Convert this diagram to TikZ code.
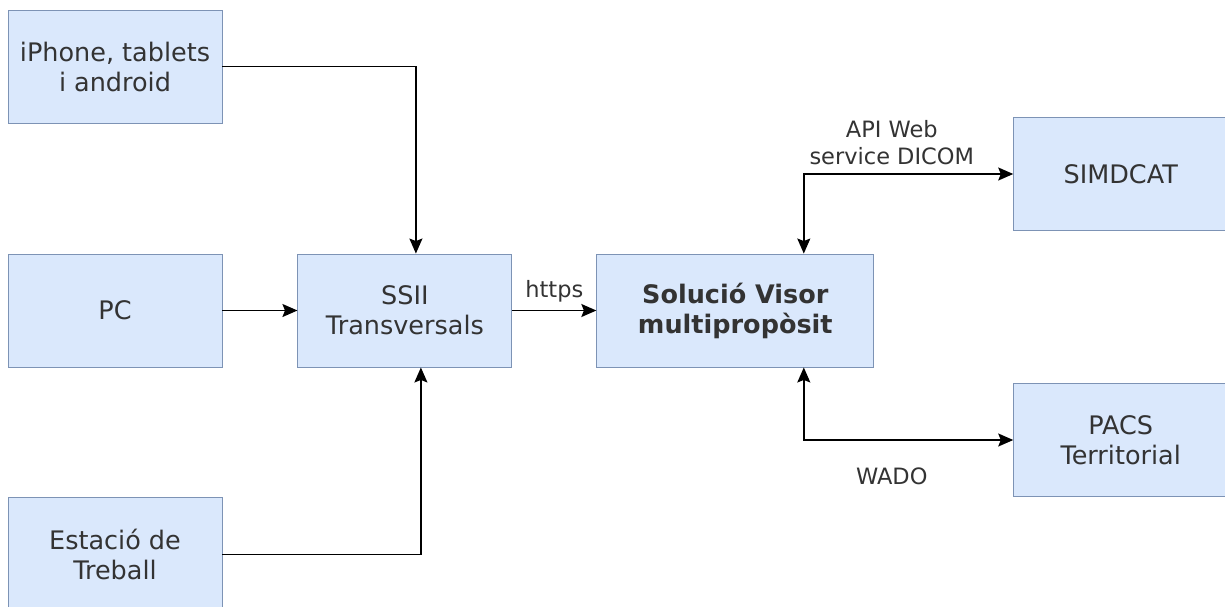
\documentclass[tikz,border=0pt]{standalone}
\usepackage{fontspec}
\setmainfont{DejaVu Sans}
\usetikzlibrary{positioning,arrows.meta}
\usepackage{xcolor}
\definecolor{boxfill}{HTML}{DAE8FC}
\definecolor{boxline}{HTML}{7D93B5}

\begin{document}
\begin{tikzpicture}[x=1pt, y=-1pt,
  block/.style={rectangle, draw=boxline, fill=boxfill, line width=0.9pt,
    minimum width=214pt, minimum height=113pt, align=center,
    text=black!80, font=\fontsize{25.5}{30}\selectfont},
  lbl/.style={align=center, text=black!80, font=\fontsize{22.5}{27}\selectfont},
  link/.style={draw, line width=1.5pt, -{Stealth[length=15pt, width=13pt, inset=2.5pt]}},
  twoway/.style={link, {Stealth[length=15pt, width=13pt, inset=2.5pt]}-{Stealth[length=15pt, width=13pt, inset=2.5pt]}},
  node distance=130pt and 75pt,
]
  \useasboundingbox (0,0) rectangle (1225,606);

  % Devices and services
  \node[block] (pc) at (115,310.5) {PC};
  \node[block, above=of pc] (phone) {iPhone, tablets\\i android};
  \node[block, below=of pc] (station) {Estació de\\Treball};
  \node[block, right=of pc] (ssii) {SSII\\Transversals};
  \node[block, right=84pt of ssii, minimum width=277pt,
    font=\bfseries\fontsize{25.5}{30}\selectfont] (visor) {Solució Visor\\multipropòsit};
  \node[block, right=139pt of visor, yshift=136.5pt] (simdcat) {SIMDCAT};
  \node[block, right=139pt of visor, yshift=-129.5pt] (pacs) {PACS\\Territorial};

  % Connections
  \draw[link] (phone.east) -| ([xshift=11pt]ssii.north);
  \draw[link] (pc) -- (ssii);
  \draw[link] (station.east) -| ([xshift=16pt]ssii.south);
  \draw[link] (ssii) -- node[lbl, above=4pt] {https} (visor);
  \draw[twoway] ([xshift=68.5pt]visor.north) |- node[lbl, above=5pt, pos=0.71] {API Web\\service DICOM} (simdcat);
  \draw[twoway] ([xshift=68.5pt]visor.south) |- node[lbl, below=24pt, pos=0.71] {WADO} (pacs);
\end{tikzpicture}
\end{document}
